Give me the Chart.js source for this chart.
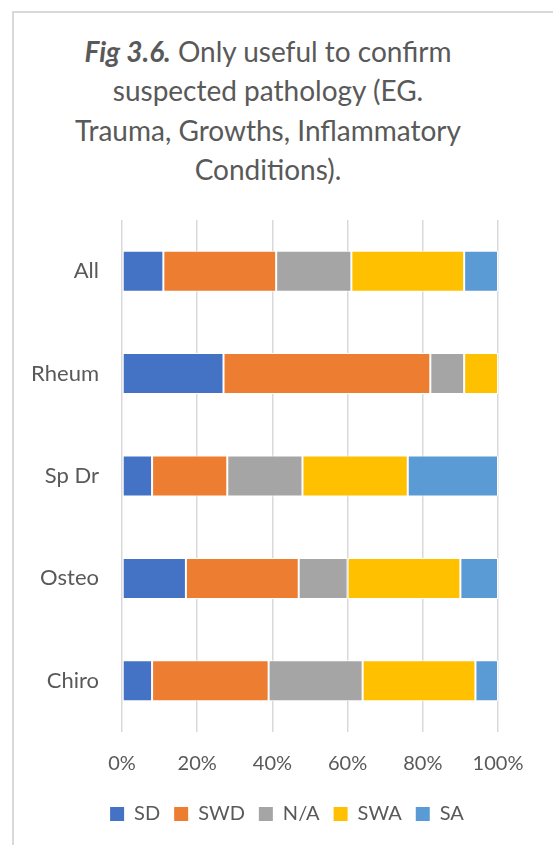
<!DOCTYPE html>
<html>
<head>
<meta charset="utf-8">
<script src="https://cdn.jsdelivr.net/npm/chart.js@4"></script>
<style>
  html, body { margin: 0; padding: 0; width: 553px; height: 845px; overflow: hidden; background: #fff; }
  #frame { position: absolute; left: 12px; top: 11px; width: 700px; height: 1000px; border: 2px solid #d9d9d9; box-sizing: border-box; }
  #title { position: absolute; left: 0; top: 32px; width: 536px; text-align: center; font-family: Lato, sans-serif; font-size: 28px; line-height: 39.3px; color: #595959; }
  #title b { font-weight: 700; font-style: italic; }
  #wrap { position: absolute; left: 0; top: 0; width: 553px; height: 845px; }
</style>
</head>
<body>
<div id="frame"></div>
<div id="title"><b>Fig 3.6.</b> Only useful to confirm<br>suspected pathology (EG.<br>Trauma, Growths, Inflammatory<br>Conditions).</div>
<div id="wrap"><canvas id="c" width="553" height="845"></canvas></div>
<script>
// Respondent groups, top to bottom
const categories = ['All', 'Rheum', 'Sp Dr', 'Osteo', 'Chiro'];
// Share of answers per group (%)
const sd  = [11, 27,  8, 17,  8];
const swd = [30, 55, 20, 30, 31];
const na  = [20,  9, 20, 13, 25];
const swa = [30,  9, 28, 30, 30];
const sa  = [ 9,  0, 24, 10,  6];
const xTicks = [0, 20, 40, 60, 80, 100];

const seriesNames = ['SD', 'SWD', 'N/A', 'SWA', 'SA'];
const seriesData = [sd, swd, na, swa, sa];
const seriesColors = ['#4472C4', '#ED7D31', '#A5A5A5', '#FFC000', '#5B9BD5'];

const textColor = '#595959';
const font = { family: 'Lato, sans-serif', size: 20 };
const catFont = { family: 'Lato, sans-serif', size: 22 };

const datasets = seriesNames.map((name, i) => ({
  label: name,
  data: seriesData[i],
  backgroundColor: seriesColors[i],
  borderColor: '#ffffff',
  borderWidth: 1,
  borderSkipped: false,
  barPercentage: 0.4,
  categoryPercentage: 1.0
}));

// Nudge the legend row to the right so it sits under the plot rather than the whole canvas
const legendShift = {
  id: 'legendShift',
  afterLayout(chart) {
    const lg = chart.legend;
    if (!lg) return;
    lg.left += 28;
    lg.right += 28;
    if (lg.adjustHitBoxes) lg.adjustHitBoxes();
  }
};

new Chart(document.getElementById('c'), {
  type: 'bar',
  data: { labels: categories, datasets },
  plugins: [legendShift],
  options: {
    indexAxis: 'y',
    responsive: false,
    animation: false,
    layout: { padding: { top: 220, left: 20, right: 55, bottom: 11 } },
    plugins: {
      title: { display: false },
      tooltip: { enabled: false },
      legend: {
        position: 'bottom',
        labels: {
          color: textColor,
          font,
          boxWidth: 14,
          boxHeight: 14,
          padding: 14,
          generateLabels(chart) {
            return chart.data.datasets.map((ds, i) => ({
              text: ds.label,
              fillStyle: ds.backgroundColor,
              strokeStyle: ds.backgroundColor,
              lineWidth: 0,
              hidden: false,
              datasetIndex: i,
              fontColor: textColor
            }));
          }
        }
      }
    },
    scales: {
      x: {
        stacked: true,
        min: 0,
        max: 100,
        afterBuildTicks(scale) { scale.ticks = xTicks.map(v => ({ value: v })); },
        afterFit(scale) { scale.height = 58; },
        ticks: { color: textColor, font, padding: 20, callback: v => v + '%' },
        grid: { color: '#d9d9d9', lineWidth: 1.5, drawTicks: false },
        border: { display: false }
      },
      y: {
        stacked: true,
        afterFit(scale) { scale.width = 102; },
        ticks: { color: textColor, font: catFont, padding: 23 },
        grid: { display: false, drawTicks: false },
        border: { display: false }
      }
    }
  }
});
</script>
</body>
</html>
